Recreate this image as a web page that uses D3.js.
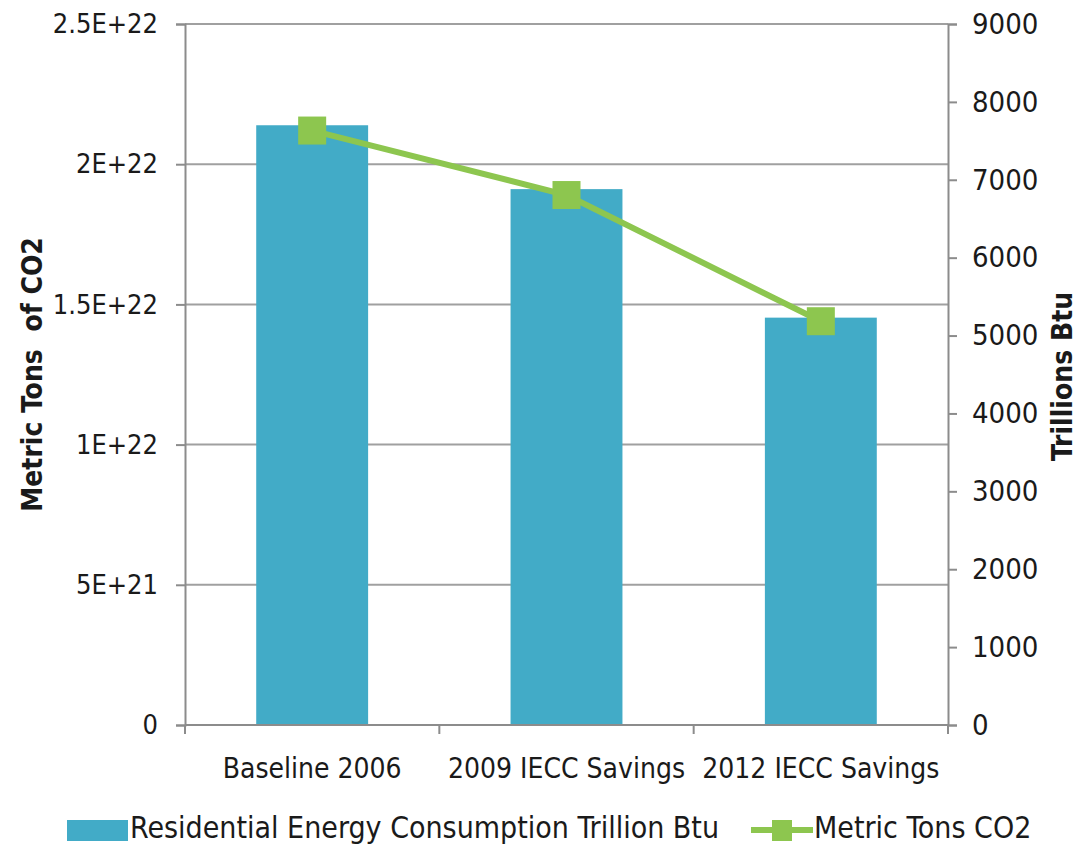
<!DOCTYPE html>
<html>
<head>
<meta charset="utf-8">
<script src="https://cdn.jsdelivr.net/npm/d3@7"></script>
<style>
  body { margin: 0; background: #fff; }
  svg text { font-family: "DejaVu Sans Condensed", "DejaVu Sans", sans-serif; font-stretch: condensed; fill: #1a1a1a; }
</style>
</head>
<body>
<svg width="1078" height="847"></svg>
<script>
// data
var categories = ['Baseline 2006', '2009 IECC Savings', '2012 IECC Savings'];
var energyBtu = [7700, 6880, 5230];          // bars, right axis
var co2Tons = [2.12e22, 1.89e22, 1.44e22];   // line, left axis
var leftTicks = [0, 5e21, 1e22, 1.5e22, 2e22, 2.5e22];
var leftTickLabels = ['0', '5E+21', '1E+22', '1.5E+22', '2E+22', '2.5E+22'];
var rightTicks = [0, 1000, 2000, 3000, 4000, 5000, 6000, 7000, 8000, 9000];

var svg = d3.select('svg');
var plot = {l: 185, r: 948, t: 24, b: 725};
var fontFam = '"DejaVu Sans Condensed", "DejaVu Sans", sans-serif';

var xScale = d3.scaleBand().domain(categories).range([plot.l, plot.r])
    .paddingInner(0.56).paddingOuter(0.28);
var yLeft = d3.scaleLinear().domain([0, 2.5e22]).range([plot.b, plot.t]);
var yRight = d3.scaleLinear().domain([0, 9000]).range([plot.b, plot.t]);

var barColor = '#42abc7';
var lineColor = '#8dc64f';
var axisColor = '#8c8c8c';

// gridlines
svg.append('g').selectAll('line')
    .data(leftTicks.slice(1))
    .enter().append('line')
    .attr('x1', plot.l).attr('x2', plot.r)
    .attr('y1', d => yLeft(d)).attr('y2', d => yLeft(d))
    .style('stroke', '#a0a0a0').style('stroke-width', 2);

// bars
svg.append('g').selectAll('rect')
    .data(energyBtu)
    .enter().append('rect')
    .attr('x', (d, i) => xScale(categories[i]))
    .attr('width', xScale.bandwidth())
    .attr('y', d => yRight(d))
    .attr('height', d => yRight(0) - yRight(d))
    .style('fill', barColor);

// left axis
var leftAxis = d3.axisLeft(yLeft).tickValues(leftTicks)
    .tickFormat((d, i) => leftTickLabels[i]).tickSize(9).tickPadding(18);
var gl = svg.append('g').attr('transform', 'translate(' + plot.l + ',0)').call(leftAxis);

// right axis
var rightAxis = d3.axisRight(yRight).tickValues(rightTicks).tickSize(9).tickPadding(15)
    .tickFormat(d3.format('d'));
var gr = svg.append('g').attr('transform', 'translate(' + plot.r + ',0)').call(rightAxis);

// bottom axis: ticks at category boundaries
var gb = svg.append('g').attr('transform', 'translate(0,' + plot.b + ')');
gb.append('line').attr('x1', plot.l).attr('x2', plot.r)
    .style('stroke', axisColor).style('stroke-width', 2);
var bounds = [plot.l].concat(categories.map(c => xScale(c) + xScale.bandwidth() / 2 + xScale.step() / 2));
gb.selectAll('.btick').data(bounds).enter().append('line')
    .attr('x1', d => d).attr('x2', d => d).attr('y1', 0).attr('y2', 9)
    .style('stroke', axisColor).style('stroke-width', 2);
gb.selectAll('.clabel').data(categories).enter().append('text')
    .attr('x', d => xScale(d) + xScale.bandwidth() / 2)
    .attr('y', 53)
    .attr('text-anchor', 'middle')
    .style('font-size', '28px')
    .text(d => d);

gl.selectAll('.tick text').style('font-size', '27px');
gr.selectAll('.tick text').style('font-size', '29px');
[gl, gr].forEach(function(g) {
    g.select('.domain').style('stroke', axisColor).style('stroke-width', 2);
    g.selectAll('.tick line').style('stroke', axisColor).style('stroke-width', 2);
    g.selectAll('.tick text').style('fill', '#1a1a1a')
        .style('font-family', fontFam).style('font-stretch', 'condensed');
});

// line
var line = d3.line()
    .x((d, i) => xScale(categories[i]) + xScale.bandwidth() / 2)
    .y(d => yLeft(d));
svg.append('path').datum(co2Tons).attr('d', line)
    .style('fill', 'none').style('stroke', lineColor).style('stroke-width', 6);
svg.append('g').selectAll('rect')
    .data(co2Tons)
    .enter().append('rect')
    .attr('x', (d, i) => xScale(categories[i]) + xScale.bandwidth() / 2 - 14)
    .attr('y', d => yLeft(d) - 14)
    .attr('width', 28).attr('height', 28)
    .style('fill', lineColor);

// axis titles
svg.append('text')
    .attr('transform', 'translate(42,' + ((plot.t + plot.b) / 2) + ') rotate(-90)')
    .attr('text-anchor', 'middle')
    .style('font-size', '28px').style('font-weight', 'bold')
    .text('Metric Tons\u00a0 of CO2');
svg.append('text')
    .attr('transform', 'translate(1072,' + ((plot.t + plot.b) / 2 + 2) + ') rotate(-90)')
    .attr('text-anchor', 'middle')
    .style('font-size', '28px').style('font-weight', 'bold')
    .text('Trillions Btu');

// legend
var lg = svg.append('g').attr('transform', 'translate(0,830)');
lg.append('rect').attr('x', 67).attr('y', -10).attr('width', 61).attr('height', 21)
    .style('fill', barColor);
lg.append('text').attr('x', 130).attr('y', 8).style('font-size', '30px')
    .text('Residential Energy Consumption Trillion Btu');
lg.append('line').attr('x1', 751).attr('x2', 813).attr('y1', 0).attr('y2', 0)
    .style('stroke', lineColor).style('stroke-width', 6);
lg.append('rect').attr('x', 772).attr('y', -10).attr('width', 20).attr('height', 21)
    .style('fill', lineColor);
lg.append('text').attr('x', 814).attr('y', 8).style('font-size', '30px')
    .text('Metric Tons CO2');
</script>
</body>
</html>
